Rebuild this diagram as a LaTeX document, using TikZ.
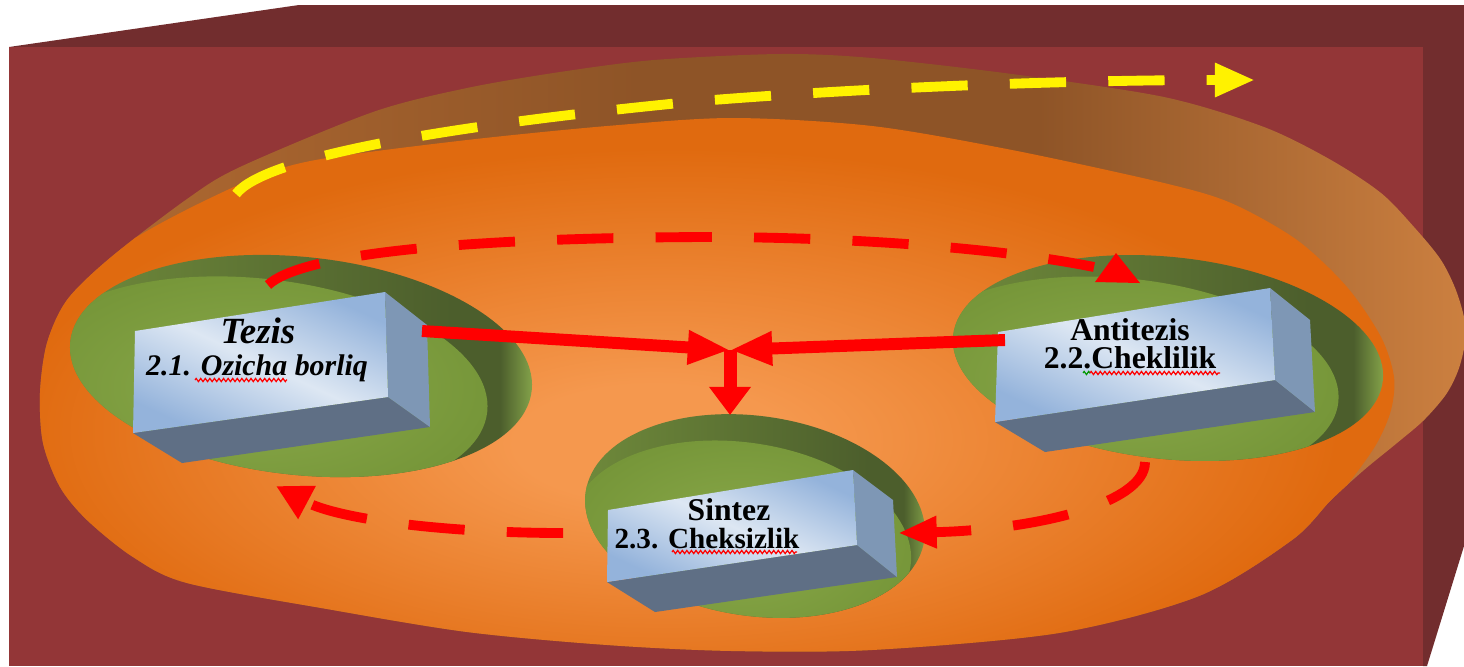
\documentclass[tikz,border=0pt]{standalone}
\usepackage{fontspec}
\setmainfont{Liberation Serif}
\usetikzlibrary{arrows.meta,decorations.pathmorphing}

\definecolor{slabfront}{HTML}{933637}
\definecolor{slabtop}{HTML}{722D2E}
\definecolor{rimlight}{HTML}{B26B32}
\definecolor{rimdark}{HTML}{8E5427}
\definecolor{rimpale}{HTML}{CC8040}
\definecolor{floorhi}{HTML}{F5984E}
\definecolor{floorlo}{HTML}{E06A0F}
\definecolor{greenlight}{HTML}{6F8A3B}
\definecolor{greendark}{HTML}{4C5E2C}
\definecolor{greenpale}{HTML}{8DAE4F}
\definecolor{mosshi}{HTML}{8AA94A}
\definecolor{mosslo}{HTML}{769639}
\definecolor{boxblue}{HTML}{94B3DB}
\definecolor{boxlight}{HTML}{DDE7F3}
\definecolor{boxside}{HTML}{7E97B5}
\definecolor{boxbottom}{HTML}{5F6F85}

\pgfdeclarehorizontalshading{rimwall}{100bp}{color(0bp)=(rimlight); color(25bp)=(rimlight); color(46bp)=(rimdark); color(60bp)=(rimdark); color(75bp)=(rimpale); color(100bp)=(rimpale)}
\pgfdeclareradialshading{floorglow}{\pgfpoint{-2bp}{-3bp}}{color(0bp)=(floorhi); color(5bp)=(floorhi); color(24bp)=(floorlo); color(50bp)=(floorlo)}
\pgfdeclarehorizontalshading{holewall}{100bp}{color(0bp)=(greenlight); color(25bp)=(greenlight); color(66bp)=(greendark); color(71bp)=(greendark); color(75bp)=(greenpale); color(100bp)=(greenpale)}
\pgfdeclareradialshading{mossfloor}{\pgfpoint{0bp}{0bp}}{color(0bp)=(mosshi); color(25bp)=(mosslo); color(50bp)=(mosslo)}

% outline of the big dish and of its floor
\newcommand\rimoutline{plot[smooth cycle, tension=0.5] coordinates {(40,393) (47,343) (67,300) (110,258) (187,199) (240,167) (373,112) (467,88) (560,72) (654,60) (780,54) (872,58) (1012,74) (1164,97) (1264,127) (1331,160) (1381,193) (1414,227) (1441,260) (1457,293) (1466,330) (1460,365) (1447,393) (1424,420) (1397,443) (1364,470) (1331,500) (1292,540) (1199,596) (1059,633) (872,650) (732,651) (607,645) (467,632) (327,609) (187,583) (133,557) (87,520) (60,487) (43,443)}}
\newcommand\flooroutline{plot[smooth cycle, tension=0.5] coordinates {(20,430) (35,340) (80,275) (140,235) (200,203) (267,173) (327,158) (467,140) (607,126) (732,118) (872,126) (1012,150) (1164,183) (1231,203) (1297,240) (1347,287) (1381,337) (1394,377) (1391,410) (1377,443) (1351,480) (1310,530) (1240,590) (1100,660) (900,700) (600,700) (300,670) (100,580)}}

\tikzset{
  frontface/.style={top color=boxblue, bottom color=boxblue, middle color=boxlight, shading angle=-25},
  sideface/.style={fill=boxside},
  bottomface/.style={fill=boxbottom},
  boxtitle/.style={anchor=base, inner sep=0pt, font=\fontsize{9}{11}\selectfont\bfseries},
  thrust/.style={draw=red, line width=3.4pt, -{Triangle[length=12pt,width=9pt]}},
  loopline/.style={draw=red, line width=2.8pt, dash pattern=on 16pt off 12pt},
  squiggle/.style={draw=red, line width=0.35pt, decorate, decoration={zigzag, segment length=1.3pt, amplitude=0.45pt}},
}

\begin{document}
\begin{tikzpicture}[x=0.01cm, y=-0.01cm]

    \useasboundingbox (0,0) rectangle (1464,666);
    \clip (0,0) rectangle (1464,666);
    \fill[white] (0,0) rectangle (1464,666);

    % slab
    \fill[slabtop] (9,47) -- (299,5) -- (1464,5) -- (1464,546) -- (1427,666) -- (1423,666) -- cycle;
    \fill[slabfront] (9,47) rectangle (1423,666);

    % dish
    \shade[shading=rimwall] \rimoutline;
    \begin{scope}
        \clip \rimoutline;
        \shade[shading=floorglow] \flooroutline;
    \end{scope}

    % green holes
    \foreach \cx/\cy/\ra/\rb/\tilt/\dx/\dy in {301/366/232/109/-6/-42/26, 1168/358/216/101/-6/-42/26, 755/516/171/100/-8/-10/28}{
        \begin{scope}[rotate around={\tilt:(\cx,\cy)}]
            \shade[shading=holewall] (\cx,\cy) ellipse ({\ra} and {\rb});
            \clip (\cx,\cy) ellipse ({\ra} and {\rb});
            \shade[shading=mossfloor] (\cx+\dx,\cy+\dy) ellipse ({\ra} and {\rb});
        \end{scope}
    }

    % dashed cycle
    \coordinate (tz-top) at (268,285);
    \coordinate (at-top) at (1094,267);
    \coordinate (at-low) at (1145,462);
    \coordinate (sz-right) at (898,533);
    \coordinate (sz-left) at (563,533);
    \coordinate (tz-low) at (276,486);

    \draw[loopline] (tz-top) .. controls (300,255) and (450,238) .. (705,237)
        .. controls (850,237) and (1000,248) .. (at-top);
    \fill[red] (1095,282) -- (1116,253) -- (1140,283) -- cycle;
    \draw[loopline, -{Triangle[length=11pt,width=8.5pt]}] (at-low) .. controls (1145,505) and (1030,530) .. (sz-right);
    \draw[loopline, -{Triangle[length=10pt,width=10pt]}] (sz-left) .. controls (450,533) and (340,520) .. (tz-low);

    % boxes
    \fill[bottomface] (133,433) -- (388,397) -- (430,427) -- (182,463) -- cycle;
    \fill[sideface] (385,292) -- (427,325) -- (430,427) -- (388,397) -- cycle;
    \shade[frontface] (135,331) -- (385,292) -- (388,397) -- (133,433) -- cycle;

    \fill[bottomface] (995,422) -- (1275,380) -- (1315,412) -- (1045,452) -- cycle;
    \fill[sideface] (1270,288) -- (1310,320) -- (1315,412) -- (1275,380) -- cycle;
    \shade[frontface] (998,332) -- (1270,288) -- (1275,380) -- (995,422) -- cycle;

    \fill[bottomface] (607,582) -- (857,545) -- (897,577) -- (655,612) -- cycle;
    \fill[sideface] (853,470) -- (893,500) -- (897,577) -- (857,545) -- cycle;
    \shade[frontface] (608,510) -- (853,470) -- (857,545) -- (607,582) -- cycle;

    \node[boxtitle, font=\fontsize{10.5}{12}\selectfont\bfseries\itshape] (tezis) at (258,343) {Tezis};
    \node[boxtitle, font=\fontsize{8.5}{10}\selectfont\bfseries\itshape] (tezis-sub) at (257,375) {2.1. Ozicha borliq};
    \node[boxtitle] (antitezis) at (1130,340) {Antitezis};
    \node[boxtitle] (antitezis-sub) at (1130,368) {2.2.Cheklilik};
    \node[boxtitle] (sintez) at (729,520) {Sintez};
    \node[boxtitle, font=\fontsize{8.3}{10}\selectfont\bfseries] (sintez-sub) at (707,548) {2.3. Cheksizlik};

    \draw[squiggle] (195,380) -- (287,380);
    \draw[squiggle, draw=green!60!black] (1083,373) -- (1090,373);
    \draw[squiggle] (1090,373) -- (1220,373);
    \draw[squiggle] (672,552) -- (797,552);

    % arrows to the synthesis
    \coordinate (meet) at (730,350);
    \coordinate (tz-out) at (422,331);
    \coordinate (at-out) at (1005,340);
    \coordinate (sz-in) at (730,415);

    \draw[thrust] (tz-out) -- (meet);
    \draw[thrust] (at-out) -- (meet);
    \draw[thrust, line width=3.7pt, -{Triangle[length=8pt,width=11.4pt]}] (meet) -- (sz-in);

    % yellow arrow on the rim
    \coordinate (rim-start) at (236,194);
    \coordinate (rim-end) at (1255,80);
    \draw[loopline, draw=yellow, -{Triangle[length=11.4pt,width=9pt]}] (rim-start)
        .. controls (262,160) and (420,128) .. (700,101)
        .. controls (900,85) and (1100,80) .. (rim-end);

\end{tikzpicture}
\end{document}
